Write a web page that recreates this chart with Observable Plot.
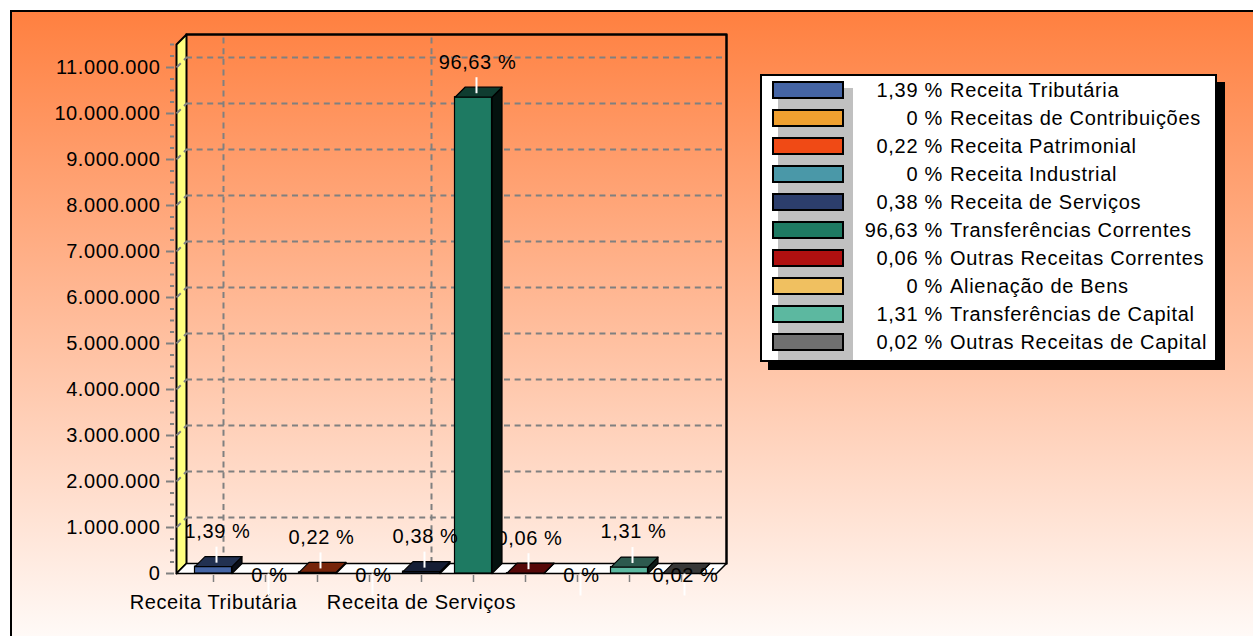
<!DOCTYPE html>
<html>
<head>
<meta charset="utf-8">
<script src="https://cdn.jsdelivr.net/npm/d3@7"></script>
<script src="https://cdn.jsdelivr.net/npm/@observablehq/plot@0.6"></script>
<style>
  html, body { margin: 0; padding: 0; background: #fff; width: 1253px; height: 636px; overflow: hidden; }
  #bg { position: absolute; left: 10px; top: 10px; width: 1300px; height: 652px; border: 2px solid #000;
        background: linear-gradient(to bottom, #FF8040 0%, #FFFFFF 100%); }
  #chart { position: absolute; left: 0; top: 0; }
  #legend { position: absolute; left: 760px; top: 74px; width: 453px; height: 284px; border: 2px solid #000;
            background: #fff; box-shadow: 8px 8px 0 #000;
            font-family: 'Liberation Sans', Arial, sans-serif; font-size: 20px; letter-spacing: 0.7px; color: #000; }
  #legend .shade { position: absolute; left: 16px; top: 12px; width: 75px; height: 272px; background: #c0c0c0; }
  #legend .sw { position: absolute; left: 10px; width: 72px; height: 18px; box-sizing: border-box; border: 2px solid #000; }
  #legend .pct { position: absolute; right: calc(100% - 181px); height: 28px; line-height: 28px; white-space: nowrap; text-align: right; }
  #legend .name { position: absolute; left: 188px; height: 28px; line-height: 28px; white-space: nowrap; }
</style>
</head>
<body>
<div id="bg"></div>
<div id="chart"></div>
<div id="legend"></div>
<script>
// ---- data ----
const categories = [
  "Receita Tributária", "Receitas de Contribuições", "Receita Patrimonial", "Receita Industrial",
  "Receita de Serviços", "Transferências Correntes", "Outras Receitas Correntes", "Alienação de Bens",
  "Transferências de Capital", "Outras Receitas de Capital"
];
const values = [148600, 0, 23400, 0, 40500, 10354000, 6300, 0, 140100, 2100];
const colors = ["#4565A5", "#F0A030", "#F04A15", "#4A98A8", "#2C3E6C", "#1E7A62", "#B01010", "#F0C060", "#5CB8A0", "#707070"];
const axisLabelCats = ["Receita Tributária", "Receita de Serviços"];
const yTicks = [0, 1000000, 2000000, 3000000, 4000000, 5000000, 6000000, 7000000, 8000000, 9000000, 10000000, 11000000];
const yMax = 11500000;

// ---- layout ----
const W = 1253, H = 636;
const FRONT_LEFT = 176, FRONT_RIGHT = 716, FRONT_BASE = 573, FRONT_TOP = 44;
const X0 = -0.7115, X1 = 9.6731;
const pxX = (FRONT_RIGHT - FRONT_LEFT) / (X1 - X0);
const pxY = (FRONT_BASE - FRONT_TOP) / yMax;
const DEPTH = 10;
const DX = DEPTH / pxX, DY = DEPTH / pxY;
const HW = 18.5 / pxX;

const total = d3.sum(values);
const pctOf = v => v / total * 100;
const pctText = v => pctOf(v).toFixed(2).replace(/\.?0+$/, "").replace(".", ",");
const numFmt = d3.formatLocale({decimal: ",", thousands: ".", grouping: [3], currency: ["R$", ""]}).format(",d");

const GRID = {stroke: "#808080", strokeWidth: 2, strokeDasharray: "6,4.6"};
const gridTicks = yTicks.filter(t => t > 0);
const minorTicks = d3.range(250000, yMax + 1, 250000).filter(t => !yTicks.includes(t));
const axisLabelIdx = axisLabelCats.map(c => categories.indexOf(c));
const idx = d3.range(categories.length);

const marks = [];
// side wall (yellow)
marks.push(Plot.line([[X0, 0], [X0, yMax], [X0 + DX, yMax + DY], [X0 + DX, DY]],
  {curve: "linear-closed", fill: "#FFFF80", stroke: "#000", strokeWidth: 2}));
// floor
marks.push(Plot.line([[X0, 0], [X1, 0], [X1 + DX, DY], [X0 + DX, DY]],
  {curve: "linear-closed", fill: "#fff", stroke: "#000", strokeWidth: 1.5}));
// gridlines on back wall
marks.push(Plot.ruleY(gridTicks, {y: d => d + DY, x1: X0 + DX, x2: X1 + DX, ...GRID}));
// gridlines on side wall
marks.push(Plot.link(gridTicks, {x1: X0, y1: d => d, x2: X0 + DX, y2: d => d + DY, ...GRID}));
// vertical gridlines at labelled categories
marks.push(Plot.ruleX(axisLabelIdx, {x: d => d + DX, y1: DY, y2: yMax + DY, ...GRID}));
// back wall frame
marks.push(Plot.line([[X0 + DX, yMax + DY], [X1 + DX, yMax + DY], [X1 + DX, DY]],
  {stroke: "#000", strokeWidth: 2.5}));
// axes
marks.push(Plot.axisY(minorTicks, {anchor: "left", tickSize: 4, dx: -2, stroke: "#808080", strokeWidth: 2, tickFormat: () => ""}));
marks.push(Plot.axisY(yTicks, {anchor: "left", tickSize: 8, tickPadding: 6, dx: -2, stroke: "#808080", strokeWidth: 2,
  fill: "#000", fontSize: 20, tickFormat: numFmt}));
marks.push(Plot.axisX(idx, {anchor: "bottom", tickSize: 7, dy: 2, stroke: "#808080", strokeWidth: 1.5, tickFormat: () => ""}));
marks.push(Plot.text(axisLabelIdx, {x: d => d, y: 0, dy: 29, text: d => categories[d], fontSize: 20, fill: "#000"}));

// bars, drawn from right to left (back to front of the 3D ordering)
for (let i = categories.length - 1; i >= 0; i--) {
  const v = values[i];
  const c = d3.color(colors[i]);
  const topC = c.darker(2).formatHex();
  const sideC = c.darker(5.5).formatHex();
  if (v > 0) {
    marks.push(Plot.line([[i + HW, 0], [i + HW, v], [i + HW + DX, v + DY], [i + HW + DX, DY]],
      {curve: "linear-closed", fill: sideC, stroke: "#000", strokeWidth: 1.2}));
    marks.push(Plot.rect([i], {x1: d => d - HW, x2: d => d + HW, y1: () => 0, y2: () => v,
      fill: colors[i], stroke: "#000", strokeWidth: 1.2}));
    marks.push(Plot.line([[i - HW, v], [i + HW, v], [i + HW + DX, v + DY], [i - HW + DX, v + DY]],
      {curve: "linear-closed", fill: topC, stroke: "#000", strokeWidth: 1.2}));
  }
  const above = pctOf(v) >= 0.05;
  marks.push(Plot.link([i], {
    x1: d => d, x2: d => d,
    y1: () => above ? v + 4 / pxY : 0,
    y2: () => above ? v + 20 / pxY : -22 / pxY,
    dx: 3, stroke: "#fff", strokeWidth: 2
  }));
  marks.push(Plot.text([i], {x: d => d, y: () => above ? v : 0, dx: 4, dy: above ? -35 : 2,
    text: () => pctText(v) + " %", fontSize: 20, fill: "#000"}));
}

const chart = Plot.plot({
  width: W, height: H,
  marginLeft: FRONT_LEFT, marginRight: W - FRONT_RIGHT,
  marginTop: FRONT_TOP, marginBottom: H - FRONT_BASE,
  x: {domain: [X0, X1], axis: null},
  y: {domain: [0, yMax], axis: null},
  style: {fontFamily: "'Liberation Sans', Arial, sans-serif", fontSize: "20px", letterSpacing: "0.6px",
          background: "transparent", color: "#000", overflow: "visible"},
  marks
});
document.getElementById("chart").appendChild(chart);

// legend
const leg = d3.select("#legend");
leg.append("div").attr("class", "shade");
categories.forEach((name, i) => {
  const cy = 14 + 28 * i;
  leg.append("div").attr("class", "sw").style("top", (cy - 9) + "px").style("background", colors[i]);
  leg.append("div").attr("class", "pct").style("top", (cy - 14) + "px").text(pctText(values[i]) + " %");
  leg.append("div").attr("class", "name").style("top", (cy - 14) + "px").text(name);
});
</script>
</body>
</html>
